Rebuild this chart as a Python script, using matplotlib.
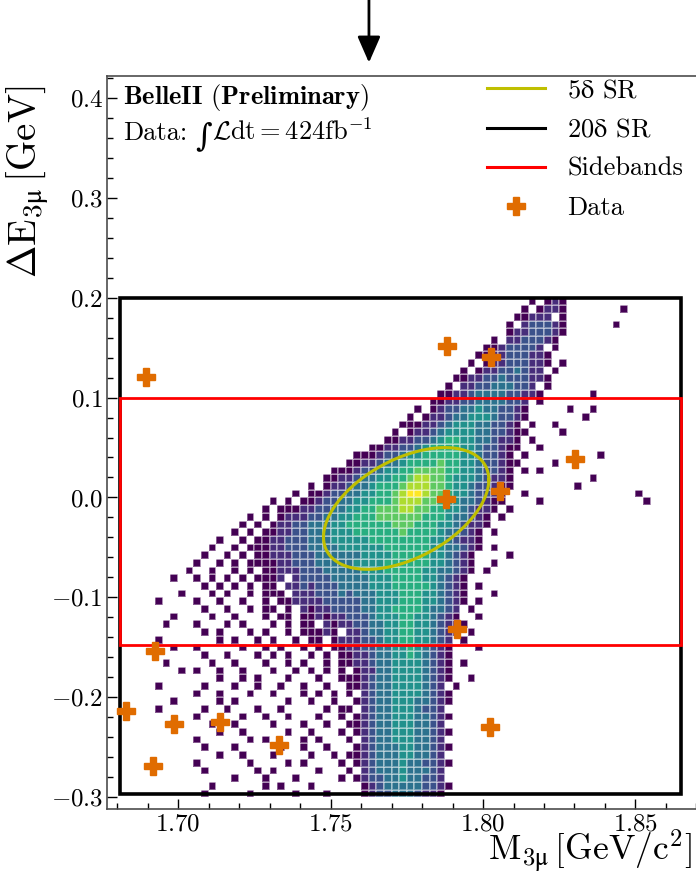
import numpy as np
import matplotlib
matplotlib.use("Agg")
import matplotlib.pyplot as plt
from matplotlib.colors import LogNorm
from matplotlib.lines import Line2D
from matplotlib.patches import Rectangle
from matplotlib.ticker import MultipleLocator
from matplotlib.transforms import offset_copy

plt.rcParams["font.family"] = ["cmr10", "DejaVu Serif"]
plt.rcParams["mathtext.fontset"] = "cm"
plt.rcParams["axes.formatter.use_mathtext"] = True

# histogram binning (M_3mu, Delta E)
M_RANGE = (1.68, 1.865)
M_BINS = 74
DE_RANGE = (-0.30, 0.20)
DE_BINS = 65

# signal MC occupancy, top row first, groups of 5 bins.
# '.' = empty, '1'..'9' = 1, 2, 4, ..., 256 entries
HIST_ROWS = [
    "..... ..... ..... ..... ..... ..... ..... ..... ..... ..... ....1 .121. ..... ..... ....",
    "..... ..... ..... ..... ..... ..... ..... ..... ..... ..... ...1. 1221. ..... .1... ....",
    "..... ..... ..... ..... ..... ..... ..... ..... ..... ..... ..112 22.1. ..... ..... ....",
    "..... ..... ..... ..... ..... ..... ..... ..... ..... ..... .1.23 3321. ..... 1.... ....",
    "..... ..... ..... ..... ..... ..... ..... ..... ..... ..... .1223 3321. ..... ..... ....",
    "..... ..... ..... ..... ..... ..... ..... ..... ..... ....1 .2233 321.. ..... ..... ....",
    "..... ..... ..... ..... ..... ..... ..... ..... ..... ...11 23333 2.1.. ..... ..... ....",
    "..... ..... ..... ..... ..... ..... ..... ..... ..... ..112 23332 21... ..... ..... ....",
    "..... ..... ..... ..... ..... ..... ..... ..... ..... .1.12 23332 21.1. ..... ..... ....",
    "..... ..... ..... ..... ..... ..... ..... ..... ..... 1.122 33432 2.1.. ..... ..... ....",
    "..... ..... ..... ..... ..... ..... ..... ..... ....1 12233 43332 21... ..... ..... ....",
    "..... ..... ..... ..... ..... ..... ..... ..... ...1. 22334 44332 .1... ..... ..... ....",
    "..... ..... ..... ..... ..... ..... ..... ..... ..112 23444 43322 1.... ..1.. ..... ....",
    "..... ..... ..... ..... ..... ..... ..... ..... .1122 33444 4332. 1.... ..... ..... ....",
    "..... ..... ..... ..... ..... ..... ..... ....1 .1233 44544 3321. ....1 ..1.. ..... ....",
    "..... ..... ..... ..... ..... ..... ..... ...1. 12234 45554 3321. ..... .1... ..... ....",
    "..... ..... ..... ..... ..... ..... ..... ..111 22345 55443 321.1 ..1.. ..... ..... ....",
    "..... ..... ..... ..... ..... ..... ..... .1.12 23455 55443 3211. ...1. ..... ..... ....",
    "..... ..... ..... ..... ..... ..... ..... 11223 34566 55443 221.1 ..... ..... ..... ....",
    "..... ..... ..... ..... ..... ..... ...11 22334 56666 55433 211.. 1.... ..... ..... ....",
    "..... ..... ..... ..... ..... ..... .1112 33455 66666 55433 21.1. ..... ...1. ..... ....",
    "..... ..... ..... ..... ..... ..... 11223 44566 66766 55433 211.. ..1.. ..... ..... ....",
    "..... ..... ..... ..... ..... ...11 12334 55667 77766 55433 21.1. 1.... ..... ..... ....",
    "..... ..... ..... ..... ..... ..112 23445 56678 87765 55432 21... ..... ..1.. ..... ....",
    "..... ..... ..... ..... ..... 1.122 34456 66788 87765 54332 11... ..... 1.... ..... ....",
    "..... ..... ..... ..... ...1. 11233 44556 67899 87765 54332 1..1. ..... ..... ...1. ....",
    "..... ..... ..... ..... 1.1.1 12334 45566 67888 77655 44321 1.... 1.... ..... ....1 ....",
    "..... ..... ..... ....1 .1112 23344 55667 77887 76655 43221 .1... ..... ..... ..... ....",
    "..... ..... ..... ..1.1 .1222 33445 56667 77777 66654 4321. 1.... ..... ..... ..... ....",
    "..... ..... ..... .1.1. 12233 44455 66666 67776 66554 3221. ..... ..... ..... ..... ....",
    "..... ..... ..... 1.1.1 12233 44455 56666 66766 66544 321.1 ..... ..... ..... ..... ....",
    "..... ..... ...1. .1.11 22333 44455 55566 66666 65543 221.. ..... ..... ..... ..... ....",
    "..... ..... ..1.. 1.111 22333 44445 55555 66666 65544 321.1 ..... ..... ..... ..... ....",
    "..... ..... .1..1 .1.11 22233 34444 44555 56666 65543 21... .1... ..... ..... ..... ....",
    "..... ..... 1..1. 1.111 12233 34444 45555 66666 65543 21..1 ..... ..... ..... ..... ....",
    "..... ....1 ..1.. 1.1.1 12223 33444 44555 66666 55443 21.1. ..... ..... ..... ..... ....",
    "..... ..1.. 1.1.1 .1.11 12.23 33344 44455 56666 55432 1.... ..... ..... ..... ..... ....",
    "..... ..... .1.1. 1.1.1 1.223 23334 44455 56666 65432 1.1.. ..... ..... ..... ..... ....",
    "..... ...1. ..1.1 ..1.1 11.22 23334 34445 55666 55432 1...1 ..... ..... ..... ..... ....",
    "..... 1.... 1..1. .1..1 .1122 22333 33445 55666 55432 1.1.. ..... ..... ..... ..... ....",
    "..... ..... .1..1 ..1.1 1.1.2 12233 33445 56666 54432 .1... ..... ..... ..... ..... ....",
    "..... ..1.. ..1.. 1...1 .11.1 12122 33345 55665 54321 ..1.. ..... ..... ..... ..... ....",
    "..... .1... 1...1 .1... 1.1.1 1.212 23344 55665 54321 1.... ..... ..... ..... ..... ....",
    "..... ..... .1.1. ..1.1 ..1.1 1121. 22344 55665 54321 .1... ..... ..... ..... ..... ....",
    "..... 1.... ...1. 1..1. 1..1. 11.12 22334 55665 5432. 1.... ..... ..... ..... ..... ....",
    "..... ..1.. 1.... .1..1 .1..1 .1.11 22334 45565 4321. ..1.. ..... ..... ..... ..... ....",
    "..... ..... .1..1 ...1. 1.1.. 1.1.1 12234 45565 4321. ..... ..... ..... ..... ..... ....",
    "..... .1... ..1.. 1...1 ..1.1 ..1.1 12234 45555 4321. 1.... ..... ..... ..... ..... ....",
    "..... ...1. 1..1. .1... 1..1. 1.1.1 .1224 45555 4321. ..... ..... ..... ..... ..... ....",
    "..... ..... ...1. .1.1. ..1.. .1..1 11234 45555 4321. .1... ..... ..... ..... ..... ....",
    "..... 1.... .1... 1..1. .1..1 ..1.. 11234 45555 432.1 ..... ..... ..... ..... ..... ....",
    "..... ..... 1..1. ..1.. 1...1 .1.1. 1.234 45555 4321. ..... ..... ..... ..... ..... ....",
    "..... ..1.. ...1. 1.... ..1.. 1..1. .1234 45554 4321. ..... ..... ..... ..... ..... ....",
    "..... 1.... .1..1 ...1. .1... ..1.1 1.234 45554 332.. ..... ..... ..... ..... ..... ....",
    "..... ..... 1.... .1..1 ..1.. .1..1 .1234 45554 4321. ..... ..... ..... ..... ..... ....",
    "..... ..1.. ..1.. 1.... 1...1 ..1.. 11234 45554 432.. ..... ..... ..... ..... ..... ....",
    "..... ..... ...1. .1... ..1.. 1...1 .1234 45554 4321. ..... ..... ..... ..... ..... ....",
    "..... ..... 1.... ..1.1 ....1 .1... 1.234 45554 432.. ..... ..... ..... ..... ..... ....",
    "..... ..... .1... 1.... .1..1 ..1.. .1234 44554 4321. ..... ..... ..... ..... ..... ....",
    "..... ..... ...1. .1... 1.... 1..1. 11234 44554 432.. ..... ..... ..... ..... ..... ....",
    "..... ..... 1.... ..1.. ..1.1 ....1 .1234 44544 3321. ..... ..... ..... ..... ..... ....",
    "..... ..... .1... ...1. 1.... .1... 1.234 44544 432.. ..... ..... ..... ..... ..... ....",
    "..... ..... ..... 1...1 ...1. ....1 .1233 44544 332.. ..... ..... ..... ..... ..... ....",
    "..... ..... ..1.. ....1 .1... 1.... ..123 44444 3321. ..... ..... ..... ..... ..... ....",
    "..... ..... .1... ..1.. ...1. ..1.. ..123 34443 221.. ..... ..... ..... ..... ..... ....",
]

# data candidates
DATA_M = [1.6895, 1.7882, 1.8026, 1.8302, 1.7879, 1.8056, 1.7915,
          1.6925, 1.6830, 1.6987, 1.7138, 1.7331, 1.6918, 1.8023]
DATA_DE = [0.121, 0.152, 0.141, 0.038, -0.002, 0.006, -0.132,
           -0.154, -0.214, -0.227, -0.225, -0.248, -0.269, -0.230]

# 5 delta signal region: centre, half extents, correlation
SR5_CENTER = (1.7748, -0.0110)
SR5_HALF = (0.0271, 0.0609)
SR5_RHO = 0.47

# rectangular regions (m_lo, m_hi, de_lo, de_hi)
SR20_BOX = (1.681, 1.865, -0.297, 0.200)
SIDEBAND_BOX = (1.681, 1.865, -0.148, 0.100)

ARROW_M = 1.7626

# decode histogram
counts = np.zeros((DE_BINS, M_BINS))
for r, row in enumerate(HIST_ROWS):
    codes = row.replace(" ", "").ljust(M_BINS, ".")[:M_BINS]
    for c, ch in enumerate(codes):
        if ch != ".":
            counts[DE_BINS - 1 - r, c] = 2 ** (int(ch) - 1)
counts = np.ma.masked_equal(counts, 0)

m_edges = np.linspace(M_RANGE[0], M_RANGE[1], M_BINS + 1)
de_edges = np.linspace(DE_RANGE[0], DE_RANGE[1], DE_BINS + 1)

fig = plt.figure(figsize=(6.96, 8.74), dpi=100)
ax = fig.add_axes([107 / 696, 64.7 / 874, 591 / 696, 733.6 / 874])

ax.pcolormesh(m_edges, de_edges, counts, cmap="viridis",
              norm=LogNorm(vmin=1, vmax=256),
              edgecolors=(1, 1, 1, 0.35), linewidth=0.3, zorder=1)

# regions
for box, col, lw in [(SR20_BOX, "black", 2.6), (SIDEBAND_BOX, "red", 2.0)]:
    ax.add_patch(Rectangle((box[0], box[2]), box[1] - box[0], box[3] - box[2],
                           fill=False, ec=col, lw=lw, zorder=3))

t = np.linspace(0, 2 * np.pi, 400)
ex = SR5_CENTER[0] + SR5_HALF[0] * np.cos(t)
ey = SR5_CENTER[1] + SR5_HALF[1] * (SR5_RHO * np.cos(t) + np.sqrt(1 - SR5_RHO ** 2) * np.sin(t))
ax.plot(ex, ey, color="y", lw=2.2, zorder=4)

ax.plot(DATA_M, DATA_DE, ls="none", marker="P", ms=12.5, color="#e06c00",
        mec="#e06c00", zorder=5)

ax.set_xlim(1.6767, 1.8705)
ax.set_ylim(-0.312, 0.422)
ax.xaxis.set_major_locator(MultipleLocator(0.05))
ax.xaxis.set_minor_locator(MultipleLocator(0.01))
ax.yaxis.set_major_locator(MultipleLocator(0.1))
ax.yaxis.set_minor_locator(MultipleLocator(0.02))
ax.tick_params(which="both", direction="in", top=False, right=False,
               labelsize=18, pad=3)
ax.tick_params(which="major", length=7, width=1)
ax.tick_params(which="minor", length=4.5, width=1)
for s in ax.spines.values():
    s.set_color("0.3")
    s.set_linewidth(1.2)
ax.spines["right"].set_visible(False)

ax.set_xlabel(r"$\mathrm{M}_{3\mathrm{μ}}\,[\mathrm{GeV/c^{2}}]$", fontsize=25.5, ha="right")
ax.xaxis.set_label_coords(0.9905, -0.0255)
ax.set_ylabel(r"$\Delta\mathrm{E}_{3\mathrm{μ}}\,[\mathrm{GeV}]$", fontsize=28, ha="right")
ax.yaxis.set_label_coords(-0.093, 0.987)

ax.text(0.027, 0.9614, r"$\mathbf{BelleII}$ ($\mathbf{Preliminary}$)",
        transform=ax.transAxes, fontsize=19, va="baseline")

# luminosity line: text, integral sign, formula placed one after another
renderer = fig.canvas.get_renderer()
lumi_x, lumi_y = 0.027, 0.9123
t1 = ax.text(lumi_x, lumi_y, "Data:", transform=ax.transAxes, fontsize=19, va="baseline")
w1 = t1.get_window_extent(renderer).width + 8
t2 = ax.text(lumi_x, lumi_y, "∫", family="DejaVu Serif", fontsize=23, va="baseline",
             transform=offset_copy(ax.transAxes, fig=fig, x=w1, y=-5, units="dots"))
w2 = w1 + t2.get_window_extent(renderer).width
ax.text(lumi_x, lumi_y, r"$\mathcal{L}\mathrm{dt}=424\mathrm{fb}^{-1}$", fontsize=19,
        va="baseline", transform=offset_copy(ax.transAxes, fig=fig, x=w2, units="dots"))

handles = [
    Line2D([], [], color="y", lw=2.2),
    Line2D([], [], color="black", lw=2.2),
    Line2D([], [], color="red", lw=2.2),
    Line2D([], [], ls="none", marker="P", ms=12.5, color="#e06c00"),
]
labels = [r"5$\mathrm{δ}$ SR", r"20$\mathrm{δ}$ SR", "Sidebands", "Data"]
ax.legend(handles, labels, loc="upper left", bbox_to_anchor=(487 / 696, 1 - 79 / 874),
          bbox_transform=fig.transFigure, frameon=False, fontsize=19,
          handlelength=2.2, handletextpad=0.85, labelspacing=0.58,
          borderpad=0, borderaxespad=0)

ax.annotate("", xy=(ARROW_M, 1.014), xycoords=ax.get_xaxis_transform(),
            xytext=(ARROW_M, 1.11), textcoords=ax.get_xaxis_transform(),
            arrowprops=dict(arrowstyle="-|>,head_length=0.8,head_width=0.35",
                            color="black", lw=2, mutation_scale=20),
            annotation_clip=False)

fig.savefig("out.png", dpi=100)
